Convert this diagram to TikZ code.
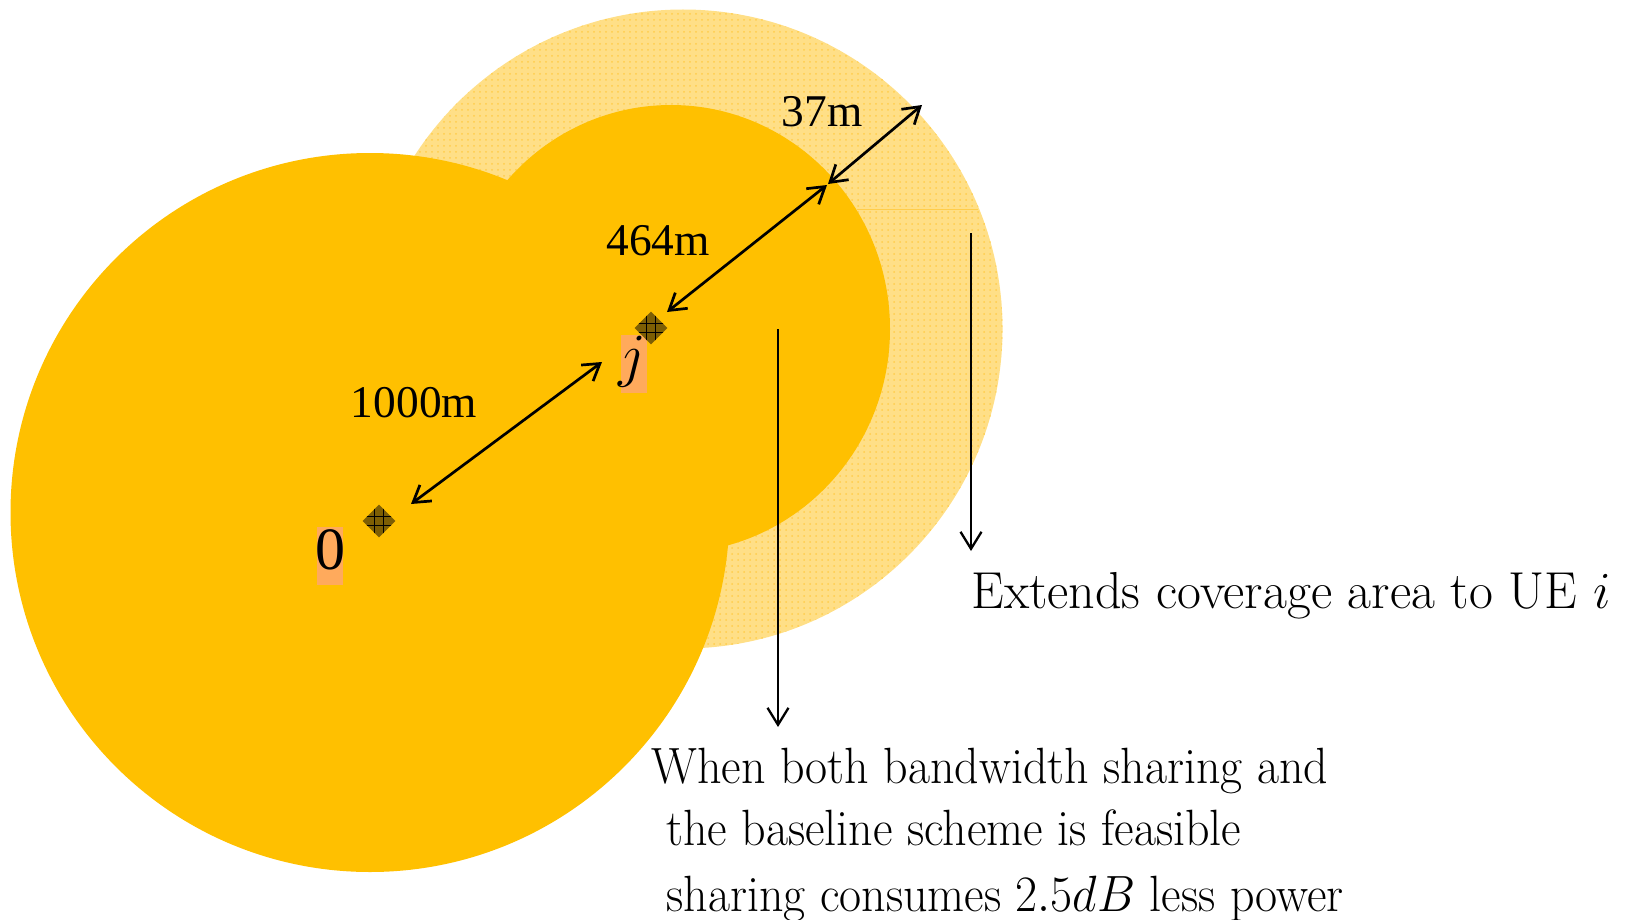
\RequirePackage{fix-cm}
\documentclass[tikz,border=0pt]{standalone}
\usepackage{graphicx}
\usepackage{fontspec}
\newfontfamily\timesf{Liberation Serif}
\usetikzlibrary{arrows.meta,shapes.geometric,patterns}
\definecolor{gold}{RGB}{255,192,0}
\definecolor{ringbase}{RGB}{255,223,135}
\definecolor{ringdot}{RGB}{255,205,75}
\definecolor{lblorange}{RGB}{255,170,92}
\definecolor{markfill}{RGB}{125,94,4}
\tikzset{
  dimarrow/.style={line width=1.35pt,{Straight Barb[length=8pt,width=10pt]}-{Straight Barb[length=8pt,width=10pt]}},
  downarrow/.style={line width=1.15pt,-{Straight Barb[length=8.5pt,width=10.5pt]}},
  timeslbl/.style={font=\timesf\fontsize{22.7}{27}\selectfont,inner sep=0pt},
  biglbl/.style={font=\timesf\fontsize{30}{36}\selectfont,inner sep=0pt},
  lblbox/.style={fill=lblorange,inner sep=0pt,minimum width=13pt,minimum height=29pt},
  bodytext/.style={font=\fontsize{25.5}{32}\selectfont,inner sep=0pt,anchor=base west},
  exttext/.style={font=\fontsize{26}{32}\selectfont,inner sep=0pt,anchor=base west},
  bstn/.style={shape=diamond,fill=markfill,inner sep=0pt,minimum width=16.5pt,minimum height=16.5pt,
    path picture={
      \draw[black,line width=0.45pt]
        ([xshift=-2.3pt]path picture bounding box.north) -- ([xshift=-2.3pt]path picture bounding box.south)
        ([xshift=2.3pt]path picture bounding box.north) -- ([xshift=2.3pt]path picture bounding box.south)
        ([yshift=-2.3pt]path picture bounding box.west) -- ([yshift=-2.3pt]path picture bounding box.east)
        ([yshift=2.3pt]path picture bounding box.west) -- ([yshift=2.3pt]path picture bounding box.east);
    }},
}
\newcommand{\narrow}[1]{\scalebox{0.94}[1]{#1}}
\begin{document}
\begin{tikzpicture}[x=0.5pt,y=-0.5pt]
\useasboundingbox (0,0) rectangle (1632,920);
% outer light ring
\fill[ringbase] (683,329) circle[radius=319.5];
\fill[pattern=dots,pattern color=ringdot] (683,329) circle[radius=319.5];
\draw[ringdot,line width=0.5pt] (857,209) -- (978,209);
% medium coverage of j
\fill[gold] (671,329) ellipse[x radius=219,y radius=224];
% big coverage of 0
\fill[gold] (370,512.5) circle[radius=359.5];
% labels of base stations
\node[lblbox] (box0) at (330,556) {};
\node[biglbl] (lbl0) at (330,550) {0};
\node[lblbox] (boxj) at (634,364) {};
\node[biglbl,font=\fontsize{30}{36}\selectfont] (lblj) at (632,362) {$j$};
% markers
\node[bstn] (m0) at (379,521) {};
\node[bstn] (mj) at (651,328) {};
% distance arrows
\coordinate (a1s) at (411,504);
\coordinate (a1e) at (602,362);
\coordinate (a2s) at (667,312);
\coordinate (a2e) at (827,185);
\coordinate (a3s) at (828,184);
\coordinate (a3e) at (922,105);
\draw[dimarrow] (a1s) -- (a1e);
\draw[dimarrow] (a2s) -- (a2e);
\draw[dimarrow] (a3s) -- (a3e);
\node[timeslbl] (t37) at (822,112) {37m};
\node[timeslbl] (t464) at (658,241) {464m};
\node[timeslbl] (t1000) at (414,403) {1000m};
% explanation arrows
\coordinate (d1s) at (778,329);
\coordinate (d1e) at (778,727);
\coordinate (d2s) at (971,233);
\coordinate (d2e) at (971,551);
\draw[downarrow] (d1s) -- (d1e);
\draw[downarrow] (d2s) -- (d2e);
\node[exttext] (ext) at (971,608) {Extends coverage area to UE $i$};
\node[bodytext] (w1) at (651,783) {\narrow{When both bandwidth sharing and}};
\node[bodytext] (w2) at (666,845) {\narrow{the baseline scheme is feasible}};
\node[bodytext] (w3) at (666,911) {\narrow{sharing consumes $2.5dB$ less power}};
\end{tikzpicture}
\end{document}
